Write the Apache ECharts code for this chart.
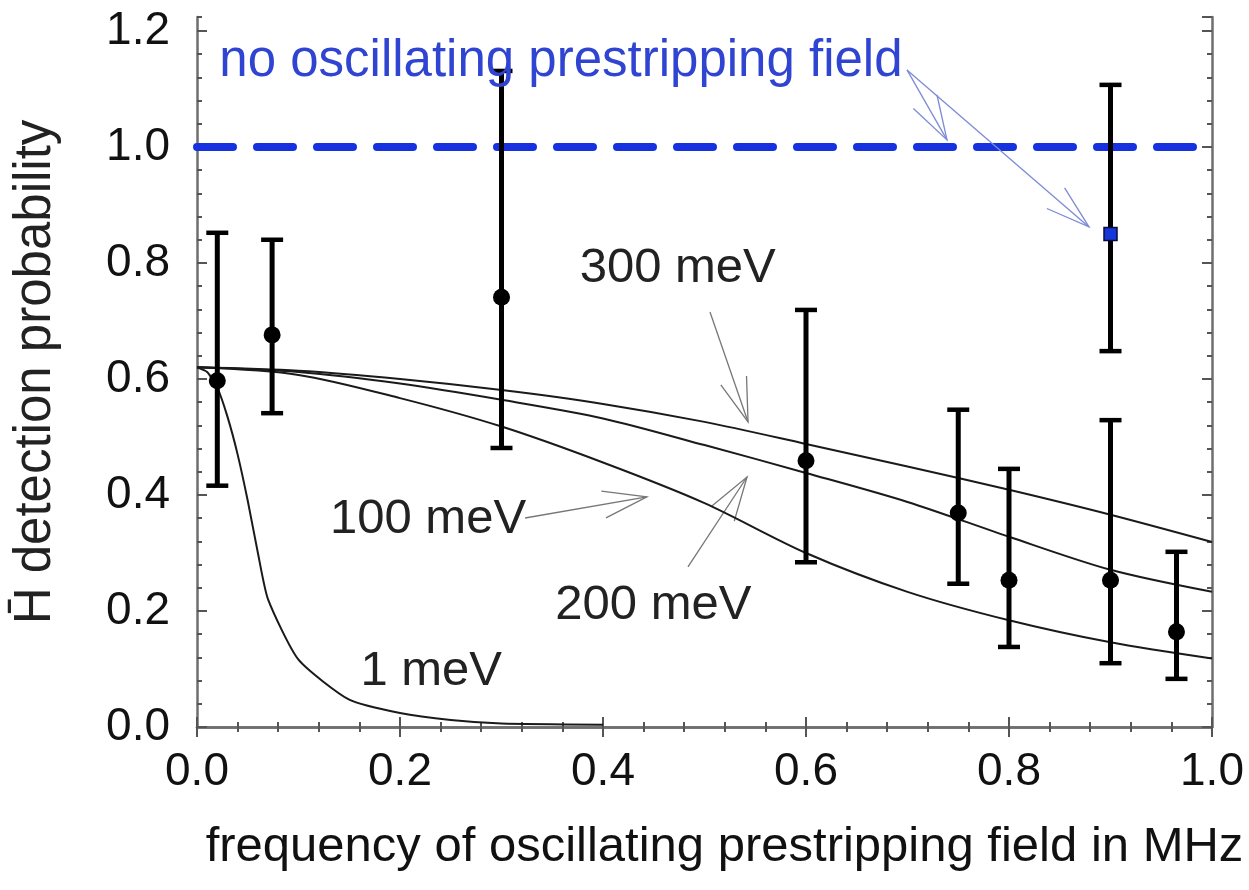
<!DOCTYPE html>
<html>
<head>
<meta charset="utf-8">
<script src="https://cdn.jsdelivr.net/npm/echarts@6/dist/echarts.min.js"></script>
<style>
html, body { margin: 0; padding: 0; background: #fff; }
#chart { width: 1249px; height: 890px; }
</style>
</head>
<body>
<div id="chart"></div>
<script>
// measured points (black): frequency, probability, error low, error high
var measFreq = [0.02, 0.074, 0.3, 0.6, 0.75, 0.8, 0.9, 0.965];
var measProb = [0.597, 0.676, 0.741, 0.459, 0.369, 0.253, 0.253, 0.164];
var measLow  = [0.416, 0.541, 0.481, 0.284, 0.247, 0.138, 0.110, 0.083];
var measHigh = [0.852, 0.840, 1.131, 0.719, 0.547, 0.445, 0.529, 0.302];

// measurement without oscillating field (blue square)
var refFreq = [0.9];
var refProb = [0.85];
var refLow  = [0.648];
var refHigh = [1.107];

// no oscillating prestripping field level
var noFieldFreq = [0, 1];
var noFieldProb = [1, 1];

// simulated curves
var curveFreq = [0, 0.1, 0.2, 0.3, 0.4, 0.5, 0.6, 0.7, 0.8, 0.9, 1.0];
var curve300 = [0.62, 0.614, 0.600, 0.581, 0.557, 0.526, 0.488, 0.449, 0.409, 0.366, 0.319];
var curve200 = [0.62, 0.612, 0.592, 0.564, 0.532, 0.486, 0.438, 0.388, 0.328, 0.271, 0.233];
var curve100 = [0.62, 0.607, 0.567, 0.518, 0.456, 0.386, 0.300, 0.233, 0.184, 0.146, 0.118];
var curve1Freq = [0, 0.01, 0.02, 0.03, 0.04, 0.05, 0.06, 0.07, 0.1, 0.15, 0.2, 0.25, 0.3, 0.4];
var curve1 = [0.62, 0.612, 0.585, 0.535, 0.47, 0.39, 0.30, 0.22, 0.116, 0.047, 0.024, 0.012, 0.006, 0.004];

// annotations
var noteText = ['no oscillating prestripping field', '300 meV', '100 meV', '200 meV', '1 meV'];
var noteX = [0.022, 0.377, 0.131, 0.353, 0.161];
var noteY = [1.147, 0.790, 0.357, 0.210, 0.095];
var noteSize = [51, 49, 49, 49, 49];
var noteColor = ['#3044d2', '#222', '#222', '#222', '#222'];

var arrowFrom = [[0.5054, 0.7155], [0.4837, 0.2759], [0.3232, 0.3603], [0.6995, 1.1328], [0.6995, 1.1328]];
var arrowTo   = [[0.5429, 0.5259], [0.5419, 0.4310], [0.4433, 0.3966], [0.7389, 1.0121], [0.8788, 0.8621]];
var arrowColor = ['#777', '#777', '#777', '#7d8ad8', '#7d8ad8'];

var FONT = 'Liberation Sans, Arial, Helvetica, sans-serif';

function zip(a, b) {
  var out = [];
  for (var i = 0; i < a.length; i++) out.push([a[i], b[i]]);
  return out;
}

function errData(x, lo, hi) {
  var out = [];
  for (var i = 0; i < x.length; i++) out.push([x[i], lo[i], hi[i]]);
  return out;
}

function renderErr(params, api) {
  var x = api.value(0);
  var top = api.coord([x, api.value(2)]);
  var bot = api.coord([x, api.value(1)]);
  var hw = 11;
  var st = { stroke: '#000', lineWidth: 5 };
  var cap = { stroke: '#000', lineWidth: 4.5 };
  return {
    type: 'group',
    children: [
      { type: 'line', shape: { x1: top[0], y1: top[1], x2: bot[0], y2: bot[1] }, style: st },
      { type: 'line', shape: { x1: top[0] - hw, y1: top[1], x2: top[0] + hw, y2: top[1] }, style: cap },
      { type: 'line', shape: { x1: bot[0] - hw, y1: bot[1], x2: bot[0] + hw, y2: bot[1] }, style: cap }
    ]
  };
}

function renderArrow(params, api) {
  var i = params.dataIndex;
  var p1 = api.coord([api.value(0), api.value(1)]);
  var p2 = api.coord([api.value(2), api.value(3)]);
  var dx = p1[0] - p2[0], dy = p1[1] - p2[1];
  var len = Math.sqrt(dx * dx + dy * dy);
  var ux = dx / len, uy = dy / len;
  var hl = 46, a = 0.3;
  var c = Math.cos(a), s = Math.sin(a);
  var h1 = [p2[0] + hl * (ux * c - uy * s), p2[1] + hl * (ux * s + uy * c)];
  var h2 = [p2[0] + hl * (ux * c + uy * s), p2[1] + hl * (-ux * s + uy * c)];
  var st = { stroke: arrowColor[i], lineWidth: 1.3, fill: null };
  return {
    type: 'group',
    children: [
      { type: 'polyline', shape: { points: [p1, p2] }, style: st },
      { type: 'polyline', shape: { points: [h1, p2, h2] }, style: st }
    ]
  };
}

function renderNote(params, api) {
  var i = params.dataIndex;
  var p = api.coord([api.value(0), api.value(1)]);
  return {
    type: 'text',
    x: p[0],
    y: p[1],
    style: {
      text: noteText[i],
      fill: noteColor[i],
      fontSize: noteSize[i],
      fontFamily: FONT,
      align: 'left',
      verticalAlign: 'middle'
    }
  };
}

var arrowData = [];
for (var k = 0; k < arrowFrom.length; k++) {
  arrowData.push([arrowFrom[k][0], arrowFrom[k][1], arrowTo[k][0], arrowTo[k][1]]);
}

var tickStyle = { color: '#555', width: 2 };
var lineStyleAxis = { color: '#6e6e6e', width: 2.5 };

function xAxisCfg(pos, labels) {
  return {
    type: 'value', position: pos, min: 0, max: 1, interval: 0.2,
    axisLine: { show: true, lineStyle: lineStyleAxis },
    axisTick: { show: true, inside: true, length: 10, lineStyle: tickStyle },
    minorTick: { show: true, splitNumber: 5, length: 5, lineStyle: tickStyle },
    splitLine: { show: false },
    axisLabel: {
      show: labels, margin: 22, fontSize: 46, color: '#111', fontFamily: FONT,
      formatter: function (v) { return v.toFixed(1); }
    }
  };
}

function yAxisCfg(pos, interval, len, labels, line) {
  return {
    type: 'value', position: pos, min: 0, max: 1.224, interval: interval,
    axisLine: { show: line, lineStyle: lineStyleAxis },
    axisTick: { show: true, inside: true, length: len, lineStyle: tickStyle },
    splitLine: { show: false },
    axisLabel: {
      show: labels, margin: 27, fontSize: 46, color: '#111', fontFamily: FONT,
      showMaxLabel: false,
      formatter: function (v) { return v.toFixed(1); }
    }
  };
}

var xBottom = xAxisCfg('bottom', true);
xBottom.name = 'frequency of oscillating prestripping field in MHz';
xBottom.nameLocation = 'middle';
xBottom.nameGap = 96;
xBottom.nameTextStyle = { fontSize: 49, color: '#111', fontFamily: FONT, padding: [0, 0, 0, 40] };

var yLeft = yAxisCfg('left', 0.2, 10, true, true);
yLeft.name = 'H\u0304 detection probability';
yLeft.nameLocation = 'middle';
yLeft.nameGap = 136;
yLeft.nameTextStyle = { fontSize: 51, color: '#222', fontFamily: FONT };

var option = {
  backgroundColor: '#fff',
  animation: false,
  grid: { left: 197, right: 37, top: 17, bottom: 163, outerBoundsMode: 'none' },
  xAxis: [xBottom, xAxisCfg('top', false)],
  yAxis: [
    yLeft,
    yAxisCfg('left', 0.04, 5, false, false),
    yAxisCfg('right', 0.2, 10, false, true),
    yAxisCfg('right', 0.04, 5, false, false)
  ],
  series: [
    {
      name: 'no field', type: 'line', data: zip(noFieldFreq, noFieldProb), symbol: 'none',
      lineStyle: { color: '#1632e0', width: 8, type: [36, 24], cap: 'round' }, z: 2
    },
    { name: '300 meV', type: 'line', data: zip(curveFreq, curve300), symbol: 'none', smooth: 0.3,
      lineStyle: { color: '#1a1a1a', width: 2 } },
    { name: '200 meV', type: 'line', data: zip(curveFreq, curve200), symbol: 'none', smooth: 0.3,
      lineStyle: { color: '#1a1a1a', width: 2 } },
    { name: '100 meV', type: 'line', data: zip(curveFreq, curve100), symbol: 'none', smooth: 0.3,
      lineStyle: { color: '#1a1a1a', width: 2 } },
    { name: '1 meV', type: 'line', data: zip(curve1Freq, curve1), symbol: 'none', smooth: 0.2,
      lineStyle: { color: '#1a1a1a', width: 2 } },
    { name: 'arrows', type: 'custom', renderItem: renderArrow, data: arrowData, clip: false, silent: true, z: 3 },
    { name: 'err', type: 'custom', renderItem: renderErr, data: errData(measFreq, measLow, measHigh), z: 4 },
    { name: 'ref err', type: 'custom', renderItem: renderErr, data: errData(refFreq, refLow, refHigh), z: 4 },
    { name: 'meas', type: 'scatter', data: zip(measFreq, measProb), symbol: 'circle', symbolSize: 17,
      itemStyle: { color: '#000', opacity: 1 }, z: 5 },
    { name: 'ref', type: 'scatter', data: zip(refFreq, refProb), symbol: 'rect', symbolSize: 13,
      itemStyle: { color: '#1537d8', borderColor: '#0a0a40', borderWidth: 1.5, opacity: 1 }, z: 6 },
    { name: 'notes', type: 'custom', renderItem: renderNote, data: zip(noteX, noteY), clip: false, silent: true, z: 7 }
  ]
};

var chart = echarts.init(document.getElementById('chart'));
chart.setOption(option);
</script>
</body>
</html>
